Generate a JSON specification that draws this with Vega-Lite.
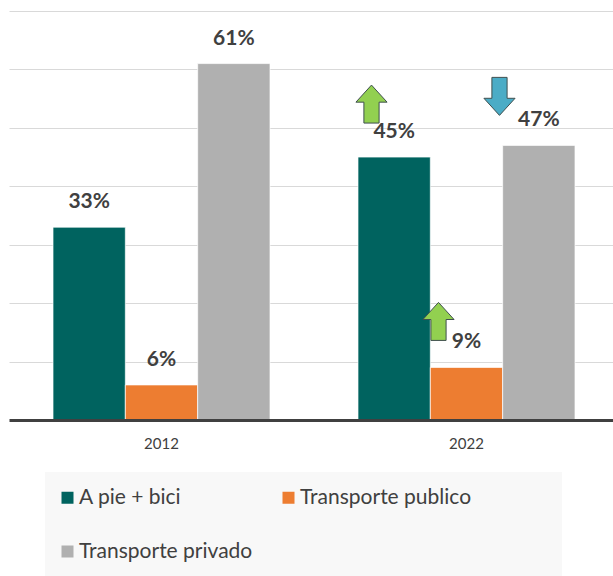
{
  "$schema": "https://vega.github.io/schema/vega-lite/v6.json",
  "width": 604,
  "height": 409,
  "autosize": "none",
  "padding": {"left": 9, "top": 11, "right": 0, "bottom": 156},
  "background": "white",
  "config": {"view": {"stroke": null}, "font": "Lato"},
  "data": {
    "values": [
      {"year": "2012", "mode": "A pie + bici", "value": 0.33, "change": null},
      {"year": "2012", "mode": "Transporte publico", "value": 0.06, "change": null},
      {"year": "2012", "mode": "Transporte privado", "value": 0.61, "change": null},
      {"year": "2022", "mode": "A pie + bici", "value": 0.45, "change": "up"},
      {"year": "2022", "mode": "Transporte publico", "value": 0.09, "change": "up"},
      {"year": "2022", "mode": "Transporte privado", "value": 0.47, "change": "down"}
    ]
  },
  "layer": [
    {
      "mark": {"type": "bar", "stroke": "white", "strokeWidth": 0.7},
      "encoding": {
        "x": {
          "field": "year",
          "type": "nominal",
          "scale": {"range": [0, 610], "paddingInner": 0.2885, "paddingOuter": 0.1443},
          "axis": {
            "title": null,
            "labelAngle": 0,
            "ticks": false,
            "domainColor": "#404040",
            "domainWidth": 3,
            "labelFontSize": 15,
            "labelFont": "Lato",
            "labelColor": "#404040",
            "labelPadding": 16,
            "zindex": 1
          }
        },
        "xOffset": {
          "field": "mode",
          "type": "nominal",
          "sort": ["A pie + bici", "Transporte publico", "Transporte privado"],
          "scale": {"paddingInner": 0, "paddingOuter": 0}
        },
        "y": {
          "field": "value",
          "type": "quantitative",
          "scale": {"domain": [0, 0.7], "nice": false},
          "axis": {
            "title": null,
            "labels": false,
            "ticks": false,
            "domain": false,
            "grid": true,
            "gridColor": "#d9d9d9",
            "gridWidth": 1,
            "values": [0.1, 0.2, 0.3, 0.4, 0.5, 0.6, 0.7]
          }
        },
        "color": {
          "field": "mode",
          "type": "nominal",
          "sort": ["A pie + bici", "Transporte publico", "Transporte privado"],
          "scale": {
            "domain": ["A pie + bici", "Transporte publico", "Transporte privado"],
            "range": ["#00635F", "#ED7D31", "#B0B0B0"]
          },
          "legend": {
            "title": null,
            "orient": "none",
            "direction": "horizontal",
            "legendX": 36,
            "legendY": 461,
            "columns": 2,
            "symbolType": "square",
            "symbolSize": 144,
            "symbolStrokeWidth": 0,
            "symbolOffset": -3,
            "labelFontSize": 21,
            "labelFont": "Lato",
            "labelColor": "#404040",
            "labelExpr": "datum.label == 'Transporte publico' ? datum.label + '\u2800\u2800\u2800\u2800\u2800' : datum.label",
            "fillColor": "#f8f8f8",
            "padding": 15,
            "rowPadding": 32,
            "columnPadding": 28,
            "labelOffset": 1,
            "labelLimit": 400
          }
        }
      }
    },
    {
      "mark": {
        "type": "text",
        "fontSize": 21,
        "fontWeight": "bold",
        "font": "Lato",
        "color": "#404040",
        "baseline": "alphabetic",
        "dy": -19
      },
      "encoding": {
        "x": {"field": "year", "type": "nominal"},
        "xOffset": {
          "field": "mode",
          "type": "nominal",
          "sort": ["A pie + bici", "Transporte publico", "Transporte privado"]
        },
        "y": {"field": "value", "type": "quantitative"},
        "text": {"field": "value", "type": "quantitative", "format": ".0%"}
      }
    },
    {
      "transform": [{"filter": "datum.change == 'up' && datum.mode == 'A pie + bici'"}],
      "mark": {
        "type": "point",
        "shape": "M0,-1 L0.82,-0.1 L0.4,-0.1 L0.4,1 L-0.4,1 L-0.4,-0.1 L-0.82,-0.1 Z",
        "size": 1444,
        "filled": true,
        "fill": "#92D050",
        "stroke": "#3F4F4F",
        "strokeWidth": 1,
        "opacity": 1,
        "xOffset": -95,
        "yOffset": -53
      },
      "encoding": {
        "x": {"field": "year", "type": "nominal"},
        "y": {"field": "value", "type": "quantitative"}
      }
    },
    {
      "transform": [{"filter": "datum.change == 'up' && datum.mode == 'Transporte publico'"}],
      "mark": {
        "type": "point",
        "shape": "M0,-1 L0.82,-0.1 L0.4,-0.1 L0.4,1 L-0.4,1 L-0.4,-0.1 L-0.82,-0.1 Z",
        "size": 1444,
        "filled": true,
        "fill": "#92D050",
        "stroke": "#3F4F4F",
        "strokeWidth": 1,
        "opacity": 1,
        "xOffset": -28,
        "yOffset": -46
      },
      "encoding": {
        "x": {"field": "year", "type": "nominal"},
        "y": {"field": "value", "type": "quantitative"}
      }
    },
    {
      "transform": [{"filter": "datum.change == 'down'"}],
      "mark": {
        "type": "point",
        "shape": "M0,1 L0.82,0.1 L0.4,0.1 L0.4,-1 L-0.4,-1 L-0.4,0.1 L-0.82,0.1 Z",
        "size": 1444,
        "filled": true,
        "fill": "#4BACC6",
        "stroke": "#3F4F4F",
        "strokeWidth": 1,
        "opacity": 1,
        "xOffset": 33,
        "yOffset": -49
      },
      "encoding": {
        "x": {"field": "year", "type": "nominal"},
        "y": {"field": "value", "type": "quantitative"}
      }
    }
  ]
}
